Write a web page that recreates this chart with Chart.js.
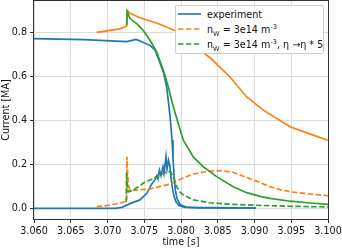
<!DOCTYPE html>
<html>
<head>
<meta charset="utf-8">
<script src="https://cdn.jsdelivr.net/npm/chart.js@4.4.0/dist/chart.umd.min.js"></script>
<style>
  html, body { margin: 0; padding: 0; background: #fff; }
  #wrap { position: relative; width: 342px; height: 248px; }
  #legend {
    position: absolute; left: 175px; top: 5px; width: 147px; height: 47px;
    background: #fff; border: 1px solid #ccc; border-radius: 2px;
    font-family: 'DejaVu Sans', sans-serif; font-size: 9.6px; color: #111;
  }
  .row { position: absolute; left: 2px; height: 14px; display: flex; align-items: center; white-space: nowrap; }
  .row svg { width: 23px; height: 4px; margin-right: 6px; flex: none; }
  sub, sup { font-size: 6.6px; line-height: 0; }
</style>
</head>
<body>
<div id="wrap">
  <canvas id="chart" width="342" height="248"></canvas>
  <div id="legend">
    <div class="row" style="top:1px">
      <svg viewBox="0 0 23 4"><line x1="0" y1="2" x2="23" y2="2" stroke="#1f77b4" stroke-width="1.6"/></svg>
      <span>experiment</span>
    </div>
    <div class="row" style="top:16px">
      <svg viewBox="0 0 23 4"><line x1="0" y1="2" x2="23" y2="2" stroke="#ff7f0e" stroke-width="1.6" stroke-dasharray="5.5 2.4"/></svg>
      <span>n<sub>W</sub> = 3e14 m<sup>-3</sup></span>
    </div>
    <div class="row" style="top:31px">
      <svg viewBox="0 0 23 4"><line x1="0" y1="2" x2="23" y2="2" stroke="#2ca02c" stroke-width="1.6" stroke-dasharray="5.5 2.4"/></svg>
      <span>n<sub>W</sub> = 3e14 m<sup>-3</sup>, η →η * 5</span>
    </div>
  </div>
</div>
<script>
// ── Ejes ──────────────────────────────────────────────────────
const xTicks = [3.060, 3.065, 3.070, 3.075, 3.080, 3.085, 3.090, 3.095, 3.100];
const yTicks = [0.0, 0.2, 0.4, 0.6, 0.8];

// ── Experimento: corriente de plasma ──────────────────────────
const expMainT = [3.06000, 3.06680, 3.06898, 3.07261, 3.07388, 3.07442, 3.07578, 3.07646, 3.07692, 3.07760,
                  3.07805, 3.07837, 3.07860, 3.07878, 3.07891, 3.07905, 3.07925, 3.07946, 3.07986, 3.08068,
                  3.08259, 3.09020];
const expMainI = [0.774, 0.769, 0.766, 0.760, 0.770, 0.763, 0.743, 0.722, 0.683, 0.622,
                  0.554, 0.463, 0.387, 0.311, 0.230, 0.150, 0.080, 0.045, 0.018, 0.006,
                  0.003, 0.002];

// ── Experimento: corriente runaway ────────────────────────────
const expReT = [3.06000, 3.07102, 3.07197, 3.07306, 3.07442, 3.07537, 3.07605, 3.07646, 3.07673, 3.07687,
                3.07707, 3.07728, 3.07755, 3.07769, 3.07796, 3.07810, 3.07830, 3.07850, 3.07864, 3.07884,
                3.07905, 3.07932, 3.07973, 3.08054, 3.09020];
const expReI = [0.000, 0.000, 0.005, 0.022, 0.039, 0.070, 0.113, 0.130, 0.150, 0.135,
                0.175, 0.150, 0.190, 0.160, 0.235, 0.180, 0.220, 0.190, 0.140, 0.090,
                0.055, 0.030, 0.013, 0.005, 0.002];

// ── Simulación n_W = 3e14 ─────────────────────────────────────
const simAMainT = [3.06853, 3.07034, 3.07170, 3.07261, 3.07269, 3.07306, 3.07442, 3.07578, 3.07714, 3.07850,
                   3.07986, 3.08122, 3.08299, 3.08408, 3.08667, 3.08894, 3.09120, 3.09483, 3.09800, 3.09996];
const simAMainI = [0.802, 0.811, 0.818, 0.831, 0.902, 0.889, 0.869, 0.854, 0.839, 0.820,
                   0.800, 0.770, 0.711, 0.683, 0.599, 0.508, 0.448, 0.372, 0.334, 0.311];
const simAReT = [3.06853, 3.06966, 3.07075, 3.07170, 3.07259, 3.07265, 3.07274, 3.07283, 3.07299, 3.07320,
                 3.07442, 3.07578, 3.07714, 3.07850, 3.07986, 3.08163, 3.08395, 3.08558, 3.08707, 3.08884,
                 3.09048, 3.09211, 3.09347, 3.09483, 3.09755, 3.10000];
const simAReI = [0.008, 0.012, 0.018, 0.025, 0.033, 0.235, 0.160, 0.110, 0.090, 0.082,
                 0.085, 0.089, 0.100, 0.111, 0.132, 0.157, 0.170, 0.172, 0.165, 0.142,
                 0.122, 0.099, 0.086, 0.076, 0.066, 0.058];

// ── Simulación n_W = 3e14, η → η*5 ────────────────────────────
const simBMainT = [3.07261, 3.07269, 3.07306, 3.07397, 3.07487, 3.07578, 3.07669, 3.07760, 3.07827, 3.07895,
                   3.07963, 3.08031, 3.08167, 3.08303, 3.08485, 3.08711, 3.08894, 3.09075, 3.09211, 3.09483,
                   3.09755, 3.10000];
const simBMainI = [0.834, 0.895, 0.865, 0.842, 0.811, 0.766, 0.713, 0.630, 0.554, 0.463,
                   0.387, 0.311, 0.235, 0.190, 0.145, 0.099, 0.072, 0.055, 0.046, 0.033,
                   0.025, 0.019];
const simBReT = [3.07256, 3.07260, 3.07268, 3.07283, 3.07351, 3.07487, 3.07623, 3.07760, 3.07827, 3.07864,
                 3.07895, 3.07941, 3.07986, 3.08031, 3.08167, 3.08395, 3.08622, 3.09075, 3.09483, 3.10000];
const simBReI = [0.030, 0.165, 0.110, 0.076, 0.084, 0.115, 0.137, 0.160, 0.170, 0.163,
                 0.145, 0.099, 0.075, 0.061, 0.039, 0.026, 0.020, 0.014, 0.010, 0.007];

const BLUE = '#1f77b4', ORANGE = '#ff7f0e', GREEN = '#2ca02c';

// ── Helpers ───────────────────────────────────────────────────
const pts = (t, v) => t.map((x, i) => ({ x, y: v[i] }));

function series(label, t, v, color, dashed, order) {
  const ds = {
    label,
    data: pts(t, v),
    borderColor: color,
    borderWidth: 1.7,
    pointRadius: 0,
    tension: 0,
    fill: false,
    order,
  };
  if (dashed) ds.borderDash = [5.5, 2.4];
  return ds;
}

// Marco completo (arriba y derecha también)
const framePlugin = {
  id: 'frame',
  afterDatasetsDraw(chart) {
    const { ctx, chartArea: a } = chart;
    ctx.save();
    ctx.strokeStyle = '#333';
    ctx.lineWidth = 1;
    ctx.strokeRect(Math.round(a.left) - 0.5, Math.round(a.top) - 0.5,
                   Math.round(a.right - a.left) + 1, Math.round(a.bottom - a.top) + 1);
    ctx.restore();
  },
};

// Sin el relleno extra que Chart.js pone por las etiquetas de los extremos
function noEdgePadding(s) {
  s.paddingTop = 0; s.paddingBottom = 0; s.paddingLeft = 0; s.paddingRight = 0;
}

Chart.defaults.font.family = "'DejaVu Sans', sans-serif";
Chart.defaults.font.size   = 9.6;
Chart.defaults.color       = '#111';

new Chart(document.getElementById('chart'), {
  type: 'line',
  data: {
    datasets: [
      series('experiment', expMainT, expMainI, BLUE, false, 3),
      series('experiment', expReT, expReI, BLUE, false, 3),
      series('nW', simAMainT, simAMainI, ORANGE, false, 2),
      series('nW', simAReT, simAReI, ORANGE, true, 2),
      series('nW eta', simBMainT, simBMainI, GREEN, false, 1),
      series('nW eta', simBReT, simBReI, GREEN, true, 1),
    ],
  },
  options: {
    responsive: false,
    animation: false,
    layout: { padding: { top: 1, right: 14, left: 0, bottom: 0 } },
    plugins: { legend: { display: false }, tooltip: { enabled: false } },
    scales: {
      x: {
        type: 'linear',
        min: 3.060,
        max: 3.100,
        afterBuildTicks: s => { s.ticks = xTicks.map(value => ({ value })); },
        afterFit: s => { s.height = 29; noEdgePadding(s); },
        ticks: { callback: v => v.toFixed(3), padding: 3, maxRotation: 0, autoSkip: false },
        grid: { color: '#dcdcdc', tickColor: '#333', tickLength: 4, lineWidth: 1 },
        border: { display: false },
        title: { display: true, text: 'time [s]', padding: { top: 0, bottom: 0 } },
      },
      y: {
        type: 'linear',
        min: -0.048,
        max: 0.945,
        afterBuildTicks: s => { s.ticks = yTicks.map(value => ({ value })); },
        afterFit: s => { s.width = 34; noEdgePadding(s); },
        ticks: { callback: v => v.toFixed(1), padding: 3, autoSkip: false },
        grid: { color: '#dcdcdc', tickColor: '#333', tickLength: 4, lineWidth: 1 },
        border: { display: false },
        title: { display: true, text: 'Current [MA]', padding: { top: 1, bottom: 0 } },
      },
    },
  },
  plugins: [framePlugin],
});
</script>
</body>
</html>
